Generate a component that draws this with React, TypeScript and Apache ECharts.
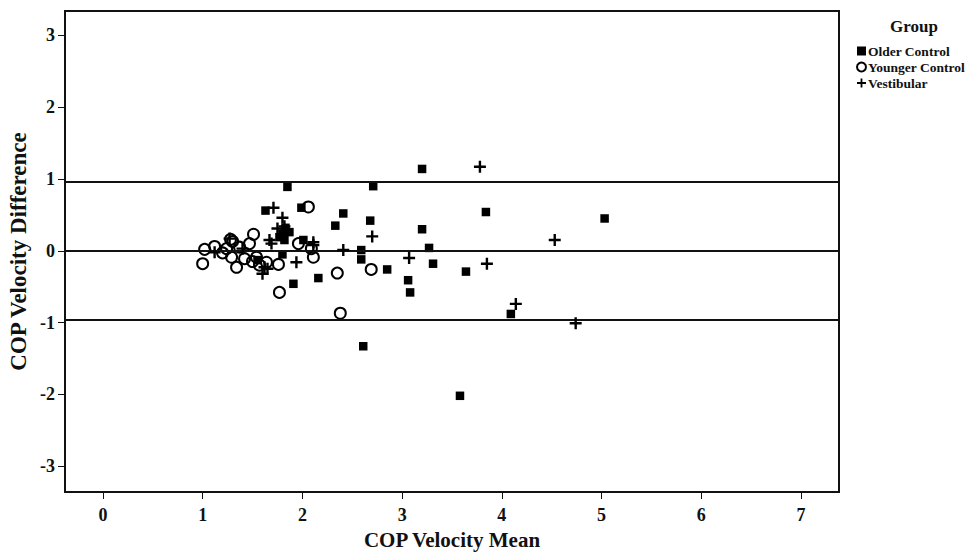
import React, { useEffect, useRef } from "react";
import * as echarts from "echarts";

const olderControl: number[][] = [
  [3.2, 1.14], [3.84, 0.54], [5.03, 0.45], [3.2, 0.3], [3.27, 0.04], [3.31, -0.18],
  [3.64, -0.29], [3.06, -0.41], [3.08, -0.58], [4.09, -0.88], [3.58, -2.02],
  [1.85, 0.89], [2.71, 0.9], [1.99, 0.6], [2.41, 0.52], [2.33, 0.35], [2.68, 0.42],
  [2.01, 0.15], [2.59, 0.01], [2.59, -0.12], [1.8, -0.05], [2.85, -0.26],
  [2.16, -0.38], [1.91, -0.46], [2.61, -1.33], [1.63, 0.56], [1.8, 0.24],
  [1.77, 0.19], [1.82, 0.15], [1.87, 0.26], [1.55, -0.13], [1.83, 0.32],
];

const youngerControl: number[][] = [
  [2.06, 0.61], [1.96, 0.1], [2.11, -0.09], [1.76, -0.19], [2.35, -0.31],
  [2.69, -0.26], [1.77, -0.58], [2.38, -0.87], [1.51, 0.23], [2.09, 0.03],
  [1.02, 0.02], [1.12, 0.06], [1.0, -0.18], [1.3, 0.13], [1.28, 0.16],
  [1.24, 0.03], [1.37, 0.05], [1.47, 0.1], [1.29, -0.09], [1.34, -0.23],
  [1.42, -0.11], [1.54, -0.09], [1.57, -0.2], [1.64, -0.16], [1.2, -0.03], [1.5, -0.15],
];

const vestibular: number[][] = [
  [3.78, 1.17], [4.53, 0.15], [3.07, -0.1], [3.85, -0.18], [4.14, -0.74],
  [4.74, -1.01], [1.71, 0.6], [1.8, 0.46], [2.7, 0.2], [2.11, 0.08], [2.41, 0.01],
  [1.94, -0.16], [1.69, 0.1], [1.62, -0.23], [1.6, -0.32], [1.12, -0.02],
  [1.27, 0.17], [1.67, 0.15], [1.65, -0.25], [1.4, 0.03], [1.75, 0.31],
  [2.11, 0.12], [1.82, 0.34],
];

// Bland-Altman lines: upper limit, mean, lower limit
const referenceLines: number[] = [0.96, 0.0, -0.96];

const xTicks: number[] = [0, 1, 2, 3, 4, 5, 6, 7];
const yTicks: number[] = [-3, -2, -1, 0, 1, 2, 3];

const FONT = "'Liberation Serif', 'Times New Roman', serif";
const PLUS = "path://M4,0H6V4H10V6H6V10H4V6H0V4H4Z";

export default function App() {
  const ref = useRef<HTMLDivElement>(null);
  useEffect(() => {
    if (!ref.current) return;
    const chart = echarts.init(ref.current, undefined, { renderer: "svg" });
    chart.setOption({
      animation: false,
      backgroundColor: "#fff",
      textStyle: { fontFamily: FONT },
      grid: {
        left: 65,
        right: 137,
        top: 11,
        bottom: 62,
        containLabel: false,
        outerBoundsMode: "none",
        show: true,
        borderColor: "#111",
        borderWidth: 2,
        backgroundColor: "transparent",
      },
      graphic: [
        {
          type: "text",
          left: 890,
          top: 18,
          style: { text: "Group", font: `bold 17px ${FONT}`, fill: "#111" },
        },
      ],
      legend: {
        orient: "vertical",
        left: 856,
        top: 44,
        padding: 0,
        itemGap: 2,
        itemWidth: 9,
        itemHeight: 9,
        textStyle: {
          fontFamily: FONT,
          fontWeight: "bold",
          fontSize: 13.5,
          lineHeight: 13.5,
          color: "#111",
          padding: [0, 0, 0, -3],
        },
        data: ["Older Control", "Younger Control", "Vestibular"],
      },
      xAxis: {
        type: "value",
        min: -0.38,
        max: 7.38,
        name: "COP Velocity Mean",
        nameLocation: "middle",
        nameGap: 37,
        nameMoveOverlap: false,
        nameTextStyle: { fontFamily: FONT, fontWeight: "bold", fontSize: 21, lineHeight: 21, color: "#111" },
        axisLine: { show: true, onZero: false, lineStyle: { color: "#111", width: 2 } },
        axisTick: { show: true, length: 7, customValues: xTicks, lineStyle: { color: "#111" } },
        axisLabel: { customValues: xTicks, margin: 14, fontFamily: FONT, fontWeight: "bold", fontSize: 18, lineHeight: 18, color: "#111" },
        splitLine: { show: false },
      },
      yAxis: {
        type: "value",
        min: -3.36,
        max: 3.34,
        name: "COP Velocity Difference",
        nameLocation: "middle",
        nameGap: 35,
        nameMoveOverlap: false,
        nameTextStyle: { fontFamily: FONT, fontWeight: "bold", fontSize: 23, color: "#111" },
        axisLine: { show: true, onZero: false, lineStyle: { color: "#111", width: 2 } },
        axisTick: { show: true, length: 7, customValues: yTicks, lineStyle: { color: "#111" } },
        axisLabel: { customValues: yTicks, margin: 10, fontFamily: FONT, fontWeight: "bold", fontSize: 18, color: "#111" },
        splitLine: { show: false },
      },
      series: [
        {
          name: "Older Control",
          type: "scatter",
          symbol: "rect",
          symbolSize: 8.5,
          itemStyle: { color: "#000", opacity: 1 },
          data: olderControl,
          z: 3,
          markLine: {
            silent: true,
            symbol: "none",
            label: { show: false },
            lineStyle: { color: "#111", width: 2, type: "solid" },
            data: referenceLines.map((v) => ({ yAxis: v })),
          },
        },
        {
          name: "Younger Control",
          type: "scatter",
          symbol: "circle",
          symbolSize: 11,
          itemStyle: { color: "rgba(255,255,255,0)", borderColor: "#000", borderWidth: 2, opacity: 1 },
          data: youngerControl,
          z: 4,
        },
        {
          name: "Vestibular",
          type: "scatter",
          symbol: PLUS,
          symbolSize: 12,
          itemStyle: { color: "#000", opacity: 1 },
          data: vestibular,
          z: 5,
        },
      ],
    });
    return () => chart.dispose();
  }, []);
  return (
    <div
      ref={ref}
      style={{ position: "absolute", left: 0, top: 0, width: 976, height: 554 }}
    />
  );
}
